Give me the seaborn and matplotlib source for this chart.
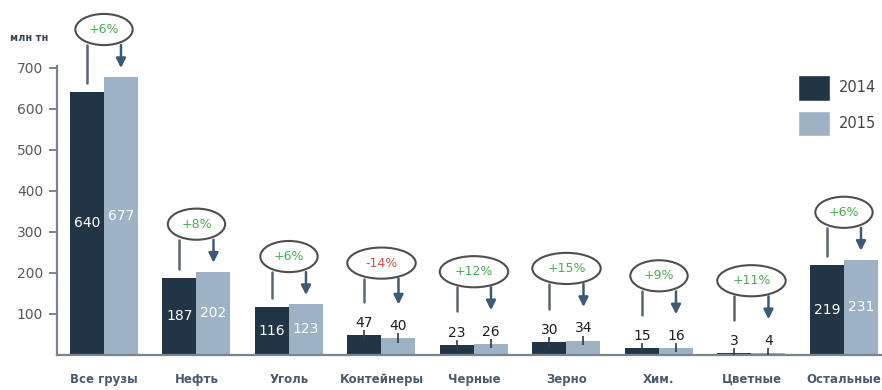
import matplotlib
matplotlib.use("Agg")
import matplotlib.pyplot as plt
import numpy as np
import pandas as pd
import seaborn as sns
from matplotlib.patches import Ellipse, Patch

# Freight volumes by cargo type, million tonnes
categories = ["Все грузы", "Нефть", "Уголь", "Контейнеры", "Черные",
              "Зерно", "Хим.", "Цветные", "Остальные"]
years = ["2014", "2015"]
vol_2014 = [640, 187, 116, 47, 23, 30, 15, 3, 219]
vol_2015 = [677, 202, 123, 40, 26, 34, 16, 4, 231]
growth = ["+6%", "+8%", "+6%", "-14%", "+12%", "+15%", "+9%", "+11%", "+6%"]
y_ticks = [100, 200, 300, 400, 500, 600, 700]
unit_label = "млн тн"

C_DARK = "#223547"
C_LIGHT = "#9db2c4"
C_POS = "#4cae4f"
C_NEG = "#e2503a"
C_AXIS = "#7b838d"

df = pd.DataFrame({
    "cat": categories * 2,
    "year": [years[0]] * len(categories) + [years[1]] * len(categories),
    "value": vol_2014 + vol_2015,
})

sns.set_theme(style="white")
plt.rcParams["font.family"] = ["DejaVu Sans"]

W, H = 882, 390
fig = plt.figure(figsize=(W / 100, H / 100), dpi=100)
ax = fig.add_axes([57 / W, 35.5 / H, 1 - 57 / W, 354.5 / H])

sns.barplot(data=df, x="cat", y="value", hue="year", order=categories,
            hue_order=years, palette=[C_DARK, C_LIGHT], saturation=1,
            width=0.735, linewidth=0, ax=ax, legend=False)

ax.set_xlim(-0.508, 8.411)
ax.set_ylim(0, 865)
ax.set_xlabel("")
ax.set_ylabel("")
ax.set_yticks(y_ticks)
for s in ("top", "right"):
    ax.spines[s].set_visible(False)
ax.spines["left"].set_bounds(0, 705)
for s in ("left", "bottom"):
    ax.spines[s].set_color(C_AXIS)
    ax.spines[s].set_linewidth(1.6)
ax.tick_params(axis="y", length=6, width=1.4, color=C_AXIS, labelsize=10,
               labelcolor="#555a60", pad=4, left=True)
ax.tick_params(axis="x", length=0, pad=13, labelsize=8.5, labelcolor="#4a5b70")
for t in ax.get_xticklabels():
    t.set_fontweight("bold")

bars14 = list(ax.containers[0])
bars15 = list(ax.containers[1])

def value_label(bar, v):
    xc = bar.get_x() + bar.get_width() / 2
    h = bar.get_height()
    if h >= 100:
        ax.text(xc, h / 2, f"{v}", ha="center", va="center", color="white",
                fontsize=10)
        return xc, h + 22
    ax.plot([xc, xc], [h - 11, h + 12], color="#333b44", lw=1.2,
            solid_capstyle="butt", zorder=3)
    ax.text(xc, h + 30, f"{v}", ha="center", va="center", color="#1e1e1e",
            fontsize=10)
    return xc, h + 82

for i, (b14, b15, v14, v15, g) in enumerate(zip(bars14, bars15, vol_2014,
                                                vol_2015, growth)):
    x14, a14 = value_label(b14, v14)
    x15, a15 = value_label(b15, v15)
    ebot = max(a14, a15) + 56
    eh = 76
    ew = 0.62 if len(g) <= 3 else 0.74
    ax.plot([x14, x14], [ebot, a14], color="#5b6673", lw=1.8, zorder=3)
    ax.annotate("", xy=(x15, a15), xytext=(x15, ebot),
                arrowprops=dict(arrowstyle="-|>", color="#3d5a75", lw=1.8,
                                mutation_scale=14, shrinkA=0, shrinkB=0),
                zorder=3)
    ax.add_patch(Ellipse((i, ebot + eh / 2), ew, eh, facecolor="white",
                         edgecolor="#4f4f4f", lw=1.5, zorder=4, clip_on=False))
    ax.text(i, ebot + eh / 2, g, ha="center", va="center", fontsize=9,
            color=C_NEG if g.startswith("-") else C_POS, zorder=5)

fig.text(10 / W, 1 - 38 / H, unit_label, fontsize=7, fontweight="bold",
         color="#3a4556", va="center")

ax.legend(handles=[Patch(facecolor=C_DARK), Patch(facecolor=C_LIGHT)],
          labels=years, loc="upper left", bbox_to_anchor=(791 / W, 1 - 68 / H),
          bbox_transform=fig.transFigure, frameon=False, borderpad=0,
          handlelength=2.2, handleheight=2.3, labelspacing=0.7,
          handletextpad=0.55, fontsize=10.5, labelcolor="#444444")

fig.savefig("out.png", dpi=100)
